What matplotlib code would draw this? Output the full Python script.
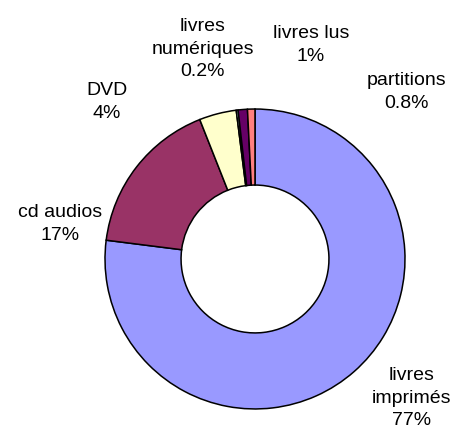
import matplotlib.pyplot as plt

# donut chart: repartition of the collection by media type
categories = ["livres\nimprimés", "cd audios", "DVD", "livres\nnumériques",
              "livres lus", "partitions"]
shares = [77, 17, 4, 0.2, 1, 0.8]
pct_labels = ["77%", "17%", "4%", "0.2%", "1%", "0.8%"]
colors = ["#9999FF", "#993366", "#FFFFCC", "#CCFFFF", "#660066", "#FF8080"]

# where each label sits (data units, radius of ring = 1)
label_pos = [(1.045, -0.927), (-1.30, 0.233), (-0.987, 1.047),
             (-0.347, 1.40), (0.373, 1.427), (1.007, 1.113)]

plt.rcParams['font.family'] = ['Liberation Sans', 'DejaVu Sans']

fig = plt.figure(figsize=(4.56, 4.37), dpi=100)
ax = fig.add_axes([0, 0, 1, 1])

ax.pie(shares, colors=colors, startangle=90, counterclock=False,
       radius=1, wedgeprops=dict(width=0.507, edgecolor="black", linewidth=1.1))

for cat, pct, (x, y) in zip(categories, pct_labels, label_pos):
    ax.text(x, y, cat + "\n" + pct, ha="center", va="center",
            fontsize=14, linespacing=1.4)

ax.set_aspect("auto")
ax.set_xlim(-1.70, 1.34)
ax.set_ylim(-1.187, 1.727)
ax.axis("off")

fig.savefig("out.png", dpi=100)
